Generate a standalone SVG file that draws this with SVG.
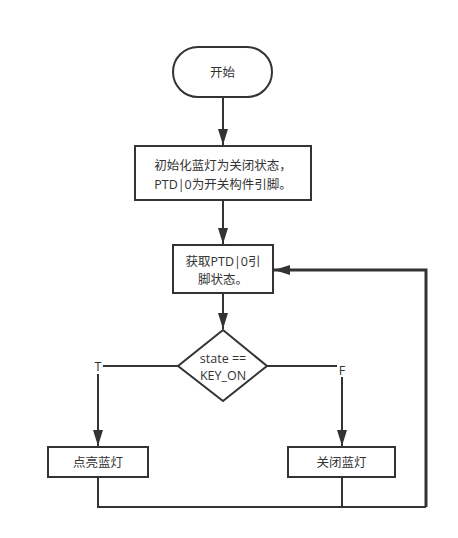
<svg xmlns="http://www.w3.org/2000/svg" width="458" height="538" viewBox="0 0 458 538">
<style>
.n{fill:#fff;stroke:#333;stroke-width:2}
.t{font-family:"Open Sans","Noto Sans CJK SC",sans-serif;font-size:12.5px;fill:#333;text-anchor:middle;dominant-baseline:central}
.c{fill:none;stroke:#333;stroke-width:2}
.lb{fill:#fff}
</style>
<defs>
<marker id="a" viewBox="0 0 16 10" refX="16" refY="5" markerWidth="16" markerHeight="10" markerUnits="userSpaceOnUse" orient="auto"><path d="M0,0 L16,5 L0,10 z" fill="#333"/></marker>
</defs>
<rect width="458" height="538" fill="#fff"/>
<g id="connectors">
<path class="c" d="M223,98 V145" marker-end="url(#a)"/>
<path class="c" d="M223,200 V244" marker-end="url(#a)"/>
<path class="c" d="M223,293 V329" marker-end="url(#a)"/>
<path class="c" d="M178,366 H98 V446" marker-end="url(#a)"/>
<path class="c" d="M267,366 H342 V446" marker-end="url(#a)"/>
<path class="c" d="M98,477 V507 H426"/>
<path class="c" d="M342,477 V507"/>
<path class="c" d="M426,507 V270 H274" style="stroke-width:3" marker-end="url(#a)"/>
<rect class="lb" x="93" y="360" width="10" height="14"/>
<text class="t" x="98" y="366">T</text>
<rect class="lb" x="337" y="363" width="10" height="14"/>
<text class="t" x="342" y="370">F</text>
</g>
<g id="start">
<rect class="n" x="173" y="47" width="99" height="50" rx="25"/>
<text class="t" x="222.5" y="72">开始</text>
</g>
<g id="init">
<rect class="n" x="135" y="146" width="176" height="54"/>
<text class="t" x="223" y="165">初始化蓝灯为关闭状态，</text>
<text class="t" x="223" y="184">PTD|0为开关构件引脚。</text>
</g>
<g id="read">
<rect class="n" x="173" y="245" width="100" height="48"/>
<text class="t" x="223" y="261">获取PTD|0引</text>
<text class="t" x="223" y="279">脚状态。</text>
</g>
<g id="decision">
<path class="n" d="M223,330 L267,366 L223,401 L178,366 Z"/>
<text class="t" x="223" y="358">state ==</text>
<text class="t" x="223" y="375">KEY_ON</text>
</g>
<g id="on">
<rect class="n" x="48" y="447" width="100" height="30"/>
<text class="t" x="98" y="462">点亮蓝灯</text>
</g>
<g id="off">
<rect class="n" x="288" y="447" width="107" height="30"/>
<text class="t" x="341.5" y="462">关闭蓝灯</text>
</g>
</svg>
